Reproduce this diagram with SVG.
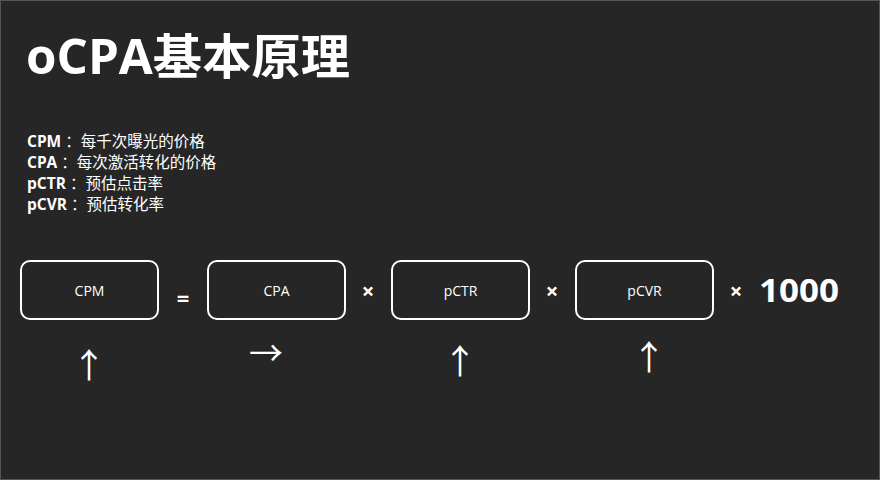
<svg xmlns="http://www.w3.org/2000/svg" width="880" height="480" viewBox="0 0 880 480">
<style>
text{fill:#fff;font-family:"Open Sans","Noto Sans CJK SC",sans-serif}
.box rect{fill:none;stroke:#fff;stroke-width:2}
.box text{font-size:14px;text-anchor:middle}
.d{font-size:15.5px}
.op{font-size:22px;font-weight:bold;text-anchor:middle}
.ar{font-size:34px;text-anchor:middle}
</style>
<rect x="0.5" y="0.5" width="879" height="479" fill="#262626" stroke="#555"/>
<text x="26" y="74" font-size="48" font-weight="bold" textLength="324" lengthAdjust="spacingAndGlyphs">oCPA基本原理</text>
<text class="d" x="27" y="147"><tspan font-weight="bold">CPM</tspan> ：每千次曝光的价格</text>
<text class="d" x="27" y="168"><tspan font-weight="bold">CPA</tspan> ：每次激活转化的价格</text>
<text class="d" x="27" y="189"><tspan font-weight="bold">pCTR</tspan> ：预估点击率</text>
<text class="d" x="27" y="210"><tspan font-weight="bold">pCVR</tspan> ：预估转化率</text>
<g id="cpm" class="box"><rect x="21" y="261" width="137" height="58" rx="9"/><text x="89.5" y="296">CPM</text></g>
<g id="cpa" class="box"><rect x="208" y="261" width="137" height="58" rx="9"/><text x="276.5" y="296">CPA</text></g>
<g id="pctr" class="box"><rect x="392" y="261" width="137" height="58" rx="9"/><text x="460.5" y="296">pCTR</text></g>
<g id="pcvr" class="box"><rect x="576" y="261" width="137" height="58" rx="9"/><text x="644.5" y="296">pCVR</text></g>
<g id="ops">
<text class="op" x="183" y="306" font-size="46" font-family="DejaVu Sans">=</text>
<text class="op" x="368" y="299">×</text>
<text class="op" x="552" y="299">×</text>
<text class="op" x="736" y="299">×</text>
<text x="759" y="302" font-size="33" font-weight="bold" textLength="80" lengthAdjust="spacingAndGlyphs">1000</text>
</g>
<g id="arrows">
<text class="ar" x="89" y="378">↑</text>
<text class="ar" x="266" y="366" font-size="28">→</text>
<text class="ar" x="460" y="374">↑</text>
<text class="ar" x="649" y="370">↑</text>
</g>
</svg>
